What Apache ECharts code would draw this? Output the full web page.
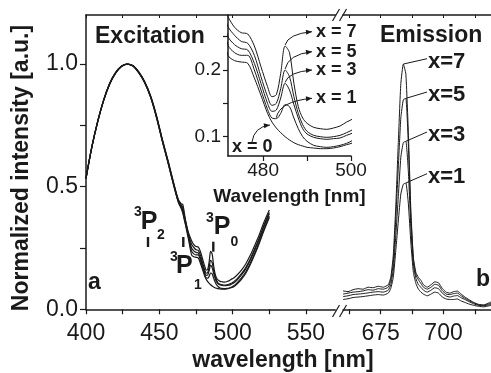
<!DOCTYPE html>
<html><head><meta charset="utf-8">
<script src="https://cdn.jsdelivr.net/npm/echarts@6/dist/echarts.min.js"></script>
<style>html,body{margin:0;padding:0;background:#fff}#c{width:491px;height:373px}</style>
</head><body><div id="c"></div>
<script>
// ---------- data ----------
const exWl = [400,404,408,412,416,420,424,428,432,436,440,444,448,452,456,460,463,465,466,467,468,470,472,473.5,475,476.5,478,479.5,481,482,483,484,485,486,487,488,489,490,491.5,493,494.5,496,497.5,499,500.5,503,506,509,512,515,518,521,525];
const exX7 = [0.536,0.664,0.768,0.854,0.92,0.964,0.991,1.0,0.994,0.968,0.929,0.872,0.792,0.695,0.605,0.51,0.447,0.43,0.428,0.395,0.36,0.31,0.28,0.264,0.256,0.254,0.236,0.205,0.175,0.16,0.163,0.195,0.236,0.226,0.18,0.145,0.128,0.12,0.114,0.112,0.111,0.113,0.116,0.122,0.127,0.14,0.16,0.186,0.22,0.26,0.302,0.35,0.405];
const exX5 = [0.535,0.663,0.767,0.853,0.919,0.963,0.99,1.0,0.993,0.967,0.927,0.869,0.789,0.692,0.602,0.507,0.444,0.425,0.415,0.385,0.355,0.303,0.265,0.252,0.243,0.24,0.222,0.19,0.16,0.147,0.15,0.172,0.2,0.19,0.16,0.135,0.118,0.108,0.102,0.1,0.099,0.1,0.102,0.106,0.111,0.124,0.145,0.171,0.205,0.246,0.289,0.338,0.395];
const exX3 = [0.534,0.662,0.766,0.852,0.918,0.962,0.99,1.0,0.993,0.966,0.926,0.868,0.787,0.69,0.6,0.505,0.441,0.42,0.405,0.378,0.35,0.296,0.25,0.238,0.232,0.23,0.21,0.18,0.15,0.138,0.14,0.158,0.18,0.17,0.148,0.128,0.112,0.104,0.099,0.097,0.096,0.097,0.098,0.102,0.106,0.119,0.14,0.165,0.2,0.24,0.283,0.332,0.39];
const exX1 = [0.533,0.661,0.765,0.851,0.917,0.962,0.99,1.0,0.992,0.965,0.925,0.866,0.785,0.688,0.597,0.502,0.438,0.415,0.398,0.372,0.345,0.29,0.237,0.226,0.222,0.222,0.2,0.17,0.141,0.128,0.127,0.135,0.148,0.145,0.128,0.112,0.1,0.093,0.087,0.085,0.084,0.085,0.087,0.09,0.095,0.108,0.128,0.153,0.188,0.228,0.272,0.321,0.38];
const exX0 = [0.532,0.66,0.764,0.85,0.916,0.961,0.989,1.0,0.992,0.964,0.924,0.865,0.783,0.686,0.595,0.5,0.435,0.41,0.392,0.366,0.34,0.282,0.222,0.214,0.212,0.21,0.188,0.162,0.135,0.122,0.113,0.106,0.1,0.095,0.091,0.088,0.086,0.084,0.083,0.082,0.082,0.083,0.085,0.088,0.091,0.103,0.122,0.147,0.182,0.222,0.266,0.315,0.374];

const emWl = [660,662,664,666,668,670,672,674,676,678,679,680,681,682,683,684,685,686,687,688,689,690,691,692,693.5,695,696.5,698,699.5,701,702.5,704,705.5,707,708.5,710,712,714,716,718,719];
const emX7 = [0.075,0.072,0.08,0.084,0.082,0.09,0.088,0.094,0.09,0.1,0.13,0.22,0.42,0.68,0.92,1.0,0.96,0.72,0.4,0.21,0.15,0.13,0.118,0.1,0.09,0.1,0.112,0.108,0.085,0.07,0.066,0.072,0.074,0.062,0.05,0.04,0.028,0.02,0.018,0.026,0.03];
const emX5 = [0.062,0.066,0.07,0.072,0.075,0.08,0.078,0.084,0.082,0.09,0.118,0.19,0.37,0.58,0.78,0.855,0.86,0.67,0.38,0.2,0.14,0.12,0.105,0.09,0.082,0.09,0.102,0.098,0.076,0.062,0.06,0.064,0.066,0.055,0.045,0.036,0.026,0.018,0.016,0.022,0.025];
const emX3 = [0.052,0.055,0.06,0.062,0.064,0.067,0.07,0.072,0.07,0.078,0.1,0.16,0.3,0.46,0.62,0.68,0.685,0.56,0.33,0.18,0.125,0.1,0.09,0.078,0.07,0.078,0.088,0.084,0.066,0.054,0.05,0.054,0.056,0.047,0.04,0.032,0.022,0.016,0.014,0.018,0.02];
const emX1 = [0.04,0.043,0.048,0.05,0.052,0.055,0.058,0.06,0.058,0.066,0.085,0.13,0.24,0.36,0.47,0.51,0.515,0.43,0.27,0.15,0.105,0.082,0.07,0.062,0.055,0.062,0.07,0.066,0.05,0.042,0.04,0.04,0.042,0.034,0.028,0.022,0.016,0.012,0.01,0.014,0.016];

const exTicks = [400,425,450,475,500,525,550];
const exLabels = [400,450,500,550];
const emTicks = [662.5,675,687.5,700,712.5];
const emLabels = [675,700];
const yTicks = [0,0.25,0.5,0.75,1.0];
const yLabels = [0,0.5,1.0];
const inXTicks = [480,490,500];
const inXLabels = [480,500];
const inYTicks = [0.1,0.15,0.2,0.25];
const inYLabels = [0.1,0.2];

// ---------- chart ----------
const INK = '#1a1a1a';
const FONT = '"Liberation Sans", Arial, sans-serif';
const chart = echarts.init(document.getElementById('c'), null, {renderer:'canvas'});
const axLine = {show:true, lineStyle:{color:INK, width:1.5}};
const tickOut = (vals, len) => ({show:true, inside:false, length:len, customValues:vals, lineStyle:{color:INK, width:1.2}});
const tickIn = (vals, len) => ({show:true, inside:true, length:len, customValues:vals, lineStyle:{color:INK, width:1}});
const lab = (vals, size, margin, fmt) => ({show:true, customValues:vals, fontSize:size, fontFamily:FONT, color:INK, margin:margin, formatter:fmt});

function line(name, xs, ys, xi, yi, smooth, w) {
  return {name, type:'line', xAxisIndex:xi, yAxisIndex:yi, data:xs.map((x,i)=>[x,ys[i]]),
    showSymbol:false, symbol:'none', smooth:smooth, clip:true, silent:true,
    lineStyle:{color:INK, width:w}};
}

const exSets = [['x=7',exX7],['x=5',exX5],['x=3',exX3],['x=1',exX1],['x=0',exX0]];
const emSets = [['x=7',emX7],['x=5',emX5],['x=3',emX3],['x=1',emX1]];
const series = [];
exSets.forEach(([n,d]) => series.push(line('ex '+n, exWl, d, 0, 0, 0.3, 1.2)));
exSets.forEach(([n,d]) => series.push(line('inset '+n, exWl, d, 4, 2, 0.3, 1)));
emSets.forEach(([n,d]) => series.push(line('em '+n, emWl, d, 2, 1, 0.15, 1)));

chart.setOption({
  animation:false,
  backgroundColor:'#fff',
  grid:[
    {left:86, top:15, width:249.3, height:294.3},
    {left:343, top:15, width:150, height:294.3},
    {left:228, top:15, width:123, height:141}
  ],
  xAxis:[
    {type:'value', gridIndex:0, position:'bottom', min:400, max:570, axisLine:axLine, axisTick:tickOut(exTicks,5), axisLabel:lab(exLabels,23,13,v=>String(v)), splitLine:{show:false}},
    {type:'value', gridIndex:0, position:'top', min:400, max:570, axisLine:axLine, axisTick:tickIn(exTicks,3), axisLabel:{show:false}, splitLine:{show:false}},
    {type:'value', gridIndex:1, position:'bottom', min:660, max:718.87, axisLine:axLine, axisTick:tickOut(emTicks,5), axisLabel:lab(emLabels,23,13,v=>String(v)), splitLine:{show:false}},
    {type:'value', gridIndex:1, position:'top', min:660, max:718.87, axisLine:axLine, axisTick:tickIn(emTicks,3), axisLabel:{show:false}, splitLine:{show:false}},
    {type:'value', gridIndex:2, position:'bottom', min:472, max:500, axisLine:axLine, axisTick:tickOut(inXTicks,5), axisLabel:lab(inXLabels,19,5,v=>String(v)), splitLine:{show:false},
      name:'Wavelength [nm]', nameLocation:'middle', nameGap:31, nameTextStyle:{fontSize:19, fontWeight:'bold', fontFamily:FONT, color:INK}}
  ],
  yAxis:[
    {type:'value', gridIndex:0, min:0, max:1.2, axisLine:axLine, axisTick:tickOut(yTicks,6), axisLabel:lab(yLabels,23,8,v=>v.toFixed(1)), splitLine:{show:false}},
    {type:'value', gridIndex:1, min:0, max:1.2, show:false},
    {type:'value', gridIndex:2, min:0.071, max:0.2825, axisLine:axLine, axisTick:tickOut(inYTicks,5), axisLabel:lab(inYLabels,19,7,v=>v.toFixed(1)), splitLine:{show:false}}
  ],
  series
});

// ---------- annotations ----------
const px = (xi, yi, p) => chart.convertToPixel({xAxisIndex:xi, yAxisIndex:yi}, p);
const g = [];
function txt(text, x, y, size, bold, align, rot) {
  g.push({type:'text', x, y, rotation:rot||0, silent:true,
    style:{text, x:0, y:0, font:(bold?'bold ':'')+size+'px '+FONT, fill:INK, textAlign:align||'left', textVerticalAlign:'middle'}});
}
function seg(x1,y1,x2,y2,w){ g.push({type:'line', silent:true, shape:{x1,y1,x2,y2}, style:{stroke:INK, lineWidth:w||1}}); }
function arrowHead(x,y,dx,dy){
  const L=Math.hypot(dx,dy), ux=dx/L, uy=dy/L, len=6, hw=2.6;
  g.push({type:'polygon', silent:true, shape:{points:[[x,y],[x-ux*len-uy*hw, y-uy*len+ux*hw],[x-ux*len+uy*hw, y-uy*len-ux*hw]]}, style:{fill:INK}});
}
function curveArrow(s, c, e){
  g.push({type:'bezierCurve', silent:true, shape:{x1:s[0],y1:s[1],x2:e[0],y2:e[1],cpx1:c[0],cpy1:c[1]}, style:{stroke:INK, lineWidth:1, fill:null}});
  arrowHead(e[0], e[1], e[0]-c[0], e[1]-c[1]);
}

// panel titles
txt('Excitation', 95, 37, 23, true);
txt('Emission', 380, 36, 23, true);
txt('a', 88, 283, 23, true);
txt('b', 476, 280, 23, true);
// axis titles
txt('wavelength [nm]', 283, 361, 23, true, 'center');
txt('Normalized intensity [a.u.]', 22, 168, 23, true, 'center', Math.PI/2);

// 3P level markers
[[148,'2',[138,212.5],[149,222.5],[161,235],237],
 [183.3,'1',[174,257],[184.3,266],[198,285],237],
 [213.3,'0',[210,218.3],[222.2,226.7],[234.5,241.7],241.7]].forEach(([bx,sub,p3,pP,pS,by])=>{
  seg(bx, by, bx, by+10, 2.4);
  txt('3', p3[0], p3[1], 14, true, 'center');
  txt('P', pP[0], pP[1], 25, true, 'center');
  txt(sub, pS[0], pS[1], 14, true, 'center');
});

// axis break marks
[[336,311],[343,311],[336,15],[343,15]].forEach(([x,y])=>seg(x-3.5,y+6,x+3.5,y-6,1.2));

// emission leaders: from each peak to its label
const emLabY = [61.7, 95, 135, 176.7];
emSets.forEach(([n,d],k)=>{
  let im = 0; d.forEach((v,i)=>{ if(v>d[im]) im=i; });
  const p = px(2,1,[emWl[im], d[im]]);
  seg(p[0], p[1], 427, emLabY[k]-3, 1);
  txt(n, 428, emLabY[k], 22, true);
});

// inset arrows & labels
const at = (arr, wl) => arr[exWl.indexOf(wl)];
const inLab = [['x = 7',exX7,485,31.7],['x = 5',exX5,485,51.7],['x = 3',exX3,485,70],['x = 1',exX1,483,98.3]];
inLab.forEach(([t,d,wl,ly])=>{
  const s = px(4,2,[wl, at(d,wl)]);
  curveArrow([s[0], s[1]-1], [s[0]+3, ly+(s[1]-ly)*0.15], [312, ly]);
  txt(t, 316, ly, 18, true);
});
{
  const e = px(4,2,[482, at(exX0,482)]);
  curveArrow([252,142], [254,127], [e[0]-2, e[1]+3]);
  txt('x = 0', 232, 147.3, 18, true);
}

chart.setOption({graphic:{elements:g}});
</script>
</body></html>
